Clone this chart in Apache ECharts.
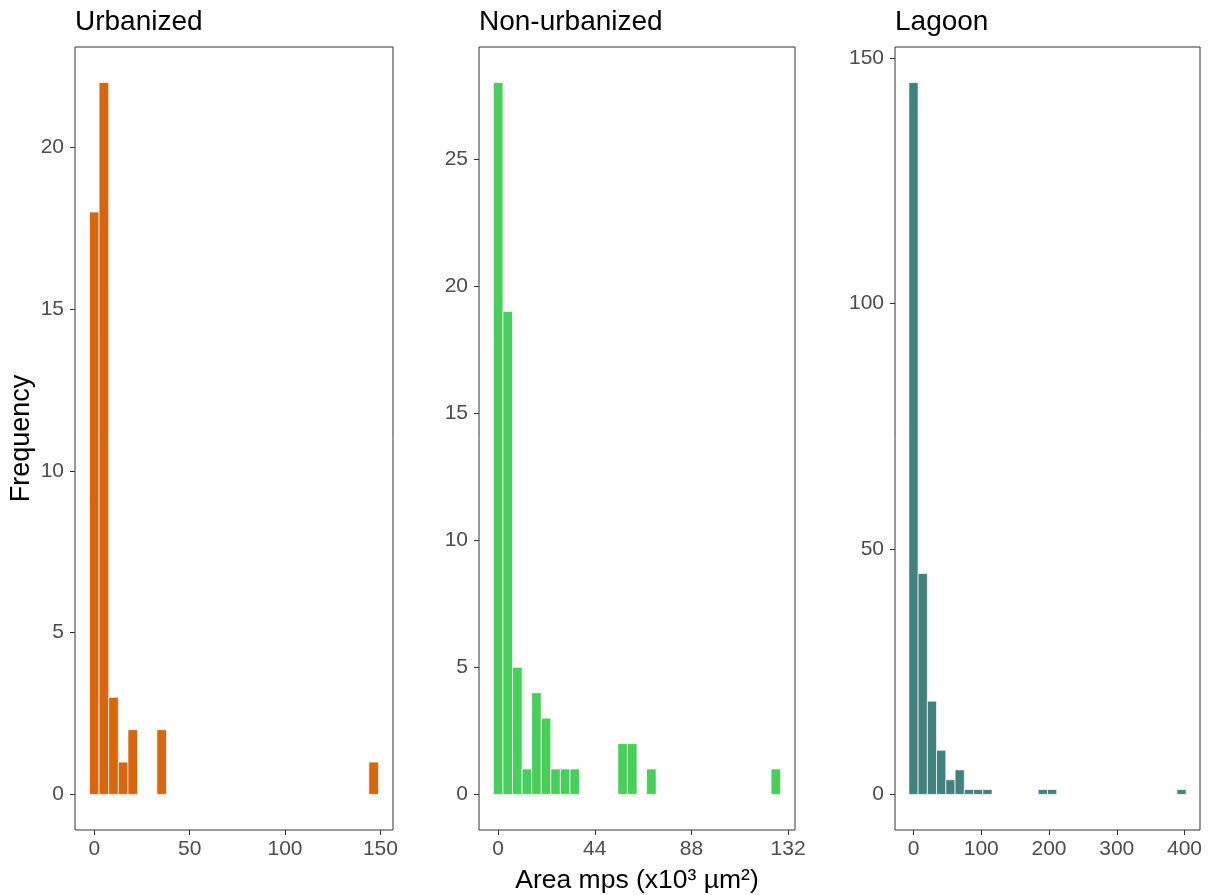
<!DOCTYPE html>
<html>
<head>
<meta charset="utf-8">
<script src="https://cdn.jsdelivr.net/npm/echarts@6/dist/echarts.min.js"></script>
<style>
html,body{margin:0;padding:0;background:#fff;}
#chart{width:1211px;height:895px;}
</style>
</head>
<body>
<div id="chart"></div>
<script>
// Panel titles
const panelTitles = ['Urbanized', 'Non-urbanized', 'Lagoon'];

// Urbanized histogram (bin centres, counts of non-empty bins)
const urbBinWidth = 5.05;
const urbCenters = [0, 5.05, 10.1, 15.15, 20.2, 35.35, 146.45];
const urbCounts  = [18, 22, 3, 1, 2, 2, 1];

// Non-urbanized histogram
const nonBinWidth = 4.36;
const nonCenters = [0, 4.36, 8.72, 13.08, 17.44, 21.8, 26.16, 30.52, 34.88, 56.68, 61.04, 69.76, 126.44];
const nonCounts  = [28, 19, 5, 1, 4, 3, 1, 1, 1, 2, 2, 1, 1];

// Lagoon histogram
const lagBinWidth = 13.64;
const lagCenters = [0, 13.64, 27.28, 40.92, 54.56, 68.2, 81.84, 95.48, 109.12, 190.96, 204.6, 395.56];
const lagCounts  = [145, 45, 19, 9, 3, 5, 1, 1, 1, 1, 1, 1];

// Tick labels
const urbXTicks = [0, 50, 100, 150];
const nonXTicks = [0, 44, 88, 132];
const lagXTicks = [0, 100, 200, 300, 400];
const urbYTicks = [0, 5, 10, 15, 20];
const nonYTicks = [0, 5, 10, 15, 20, 25];
const lagYTicks = [0, 50, 100, 150];

const xLabel = 'Area mps (x10³ µm²)';
const yLabel = 'Frequency';

const colors = ['#D8650F', '#48CF5B', '#43817F'];

const FONT = 'Liberation Sans, Arial, sans-serif';
const chart = echarts.init(document.getElementById('chart'), null, {renderer: 'canvas'});

const panels = [
  {centers: urbCenters, counts: urbCounts, bw: urbBinWidth, xt: urbXTicks, yt: urbYTicks,
   xmin: -10.1, xmax: 156.6, ymin: -1.1, ymax: 23.1, left: 75, width: 318},
  {centers: nonCenters, counts: nonCounts, bw: nonBinWidth, xt: nonXTicks, yt: nonYTicks,
   xmin: -8.72, xmax: 135.16, ymin: -1.4, ymax: 29.4, left: 479, width: 316},
  {centers: lagCenters, counts: lagCounts, bw: lagBinWidth, xt: lagXTicks, yt: lagYTicks,
   xmin: -27.28, xmax: 422.84, ymin: -7.25, ymax: 152.25, left: 895, width: 305}
];

const grids = [], xAxes = [], yAxes = [], series = [], titles = [];
panels.forEach((p, i) => {
  grids.push({left: p.left, top: 47, width: p.width, height: 783, show: true,
    borderColor: '#333', borderWidth: 1, backgroundColor: '#fff', outerBoundsMode: 'none', containLabel: false});
  titles.push({text: panelTitles[i], left: p.left, top: 8, padding: 0,
    textStyle: {fontFamily: FONT, fontSize: 28, fontWeight: 'normal', color: '#000'}});
  xAxes.push({type: 'value', gridIndex: i, min: p.xmin, max: p.xmax, position: 'bottom',
    axisLine: {show: false, onZero: false}, splitLine: {show: false},
    axisTick: {show: true, length: 5, lineStyle: {color: '#333', width: 1}, customValues: p.xt},
    axisLabel: {show: true, customValues: p.xt, margin: 9, color: '#4D4D4D', fontFamily: FONT, fontSize: 21},
    name: i === 1 ? xLabel : '', nameLocation: 'middle', nameGap: 37,
    nameTextStyle: {fontFamily: FONT, fontSize: 26.5, color: '#000'}});
  yAxes.push({type: 'value', gridIndex: i, min: p.ymin, max: p.ymax, position: 'left',
    axisLine: {show: false, onZero: false}, splitLine: {show: false},
    axisTick: {show: true, length: 5, lineStyle: {color: '#333', width: 1}, customValues: p.yt},
    axisLabel: {show: true, customValues: p.yt, margin: 11, color: '#4D4D4D', fontFamily: FONT, fontSize: 21},
    name: i === 0 ? yLabel : '', nameLocation: 'middle', nameGap: 40, nameRotate: 90,
    nameTextStyle: {fontFamily: FONT, fontSize: 27, color: '#000'}});
  const data = p.centers.map((c, k) => [c, p.counts[k]]);
  const bw = p.bw, col = colors[i];
  series.push({type: 'custom', xAxisIndex: i, yAxisIndex: i, data: data, encode: {x: 0, y: 1},
    renderItem: function (params, api) {
      const x = api.value(0), y = api.value(1);
      const a = api.coord([x - bw / 2, y]);
      const b = api.coord([x + bw / 2, 0]);
      return {type: 'rect', shape: {x: a[0], y: a[1], width: b[0] - a[0], height: b[1] - a[1]},
        style: {fill: col, stroke: 'rgba(255,255,255,0.7)', lineWidth: 1}};
    }});
});

chart.setOption({
  animation: false,
  backgroundColor: '#fff',
  title: titles,
  grid: grids,
  xAxis: xAxes,
  yAxis: yAxes,
  series: series
});
</script>
</body>
</html>
